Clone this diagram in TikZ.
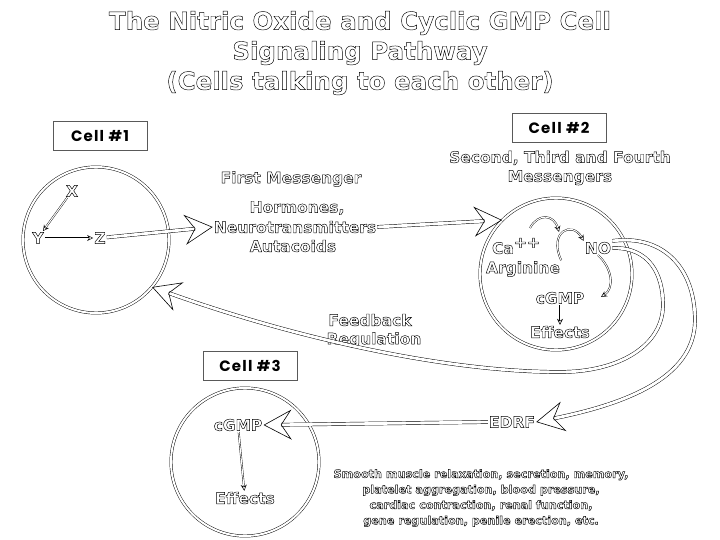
\documentclass[tikz,border=0pt]{standalone}
\usepackage{fontspec}
\setmainfont{DejaVu Sans}
\newfontfamily\cellfont{Poppins}[LetterSpace=8]
\usetikzlibrary{arrows.meta}
\tikzset{
  hol/.style={execute at begin node={\special{pdf:literal direct 1 Tr 0.45 w}},
              execute at end node={\special{pdf:literal direct 0 Tr}}},
  lbl/.style={hol, inner sep=1pt, font=\bfseries\fontsize{15.5}{19}\selectfont},
  small/.style={hol, inner sep=1pt, align=center, font=\bfseries\fontsize{11.2}{15.5}\selectfont},
  ttl/.style={hol, align=center, font=\bfseries\fontsize{24.5}{30}\selectfont},
  boxlbl/.style={draw=black!65, line width=0.7pt, minimum width=94pt, minimum height=29pt,
                 font=\cellfont\bfseries\fontsize{15}{17}\selectfont},
  cellwall/.style={circle, draw, double, double distance=2pt, line width=0.45pt},
  big/.style={draw, double, double distance=2.8pt, line width=0.45pt,
              -{Stealth[open, length=28pt, width=30pt, inset=10pt, line width=0.6pt]}},
  thinar/.style={draw, double, double distance=1pt, line width=0.4pt,
              -{Stealth[open, length=6pt, width=6pt, line width=0.5pt]}}
}
\begin{document}
\begin{tikzpicture}[x=1pt,y=-1pt]
\useasboundingbox (0,0) rectangle (720,540);

% title
\node[ttl] (title) at (360,53) {The Nitric Oxide and Cyclic GMP Cell\\Signaling Pathway\\(Cells talking to each other)};

% cell boxes
\node[boxlbl] (b1) at (100,136) {Cell \#1};
\node[boxlbl] (b2) at (559,128) {Cell \#2};
\node[boxlbl] (b3) at (250,366) {Cell \#3};

% cells
\node[cellwall, minimum size=146pt] (c1) at (96,240) {};
\node[cellwall, minimum size=152pt] (c2) at (556,274) {};
\node[cellwall, minimum size=148pt] (c3) at (245,462) {};

% cell 1 contents
\node[lbl] (x) at (72,191) {X};
\node[lbl] (y) at (38,238) {Y};
\node[lbl] (z) at (100,238) {Z};
\draw[thinar] (x) -- (y);
\draw[thinar] (y) -- (z);

% first messenger
\node[lbl] (fm) at (291,179) {First Messenger};
\node[lbl] (horm) at (297,208) {Hormones,};
\node[lbl] (neuro) at (295,227) {Neurotransmitters};
\node[lbl] (auta) at (293,246) {Autacoids};
\draw[big] (z) -- (neuro.west);
\draw[big] (neuro.east) -- (c2.135);

% cell 2 header
\node[lbl, align=center] (stf) at (560,168) {Second, Third and Fourth\\Messengers};

% cell 2 contents
\node[lbl] (ca) at (516,246) {Ca\raisebox{6pt}{++}};
\node[lbl] (no) at (598,248) {NO};
\node[lbl] (arg) at (523,269) {Arginine};
\node[lbl] (cg2) at (560,298) {cGMP};
\node[lbl] (ef2) at (560,332) {Effects};
\coordinate (a1s) at (530,228);
\coordinate (a1e) at (559,232);
\coordinate (a3e) at (601,297);
\draw[thinar] (a1s) .. controls (538,213) and (554,214) .. (a1e);
\draw[thinar] (arg.north east) .. controls (548,232) and (572,220) .. (no.north west);
\draw[thinar] (no.south) .. controls (612,268) and (615,288) .. (a3e);
\draw[thinar] (cg2) -- (ef2);

% feedback
\node[lbl] (fb) at (370,320) {Feedback};
\node[lbl] (reg) at (374,340) {Regulation};
\draw[big] (no.east) .. controls (650,247) and (663,275) .. (663,305)
  .. controls (663,345) and (620,372) .. (560,372)
  .. controls (450,372) and (300,340) .. (c1.-40);

% EDRF
\node[lbl] (edrf) at (512,422) {EDRF};
\draw[big] (no.north east) .. controls (665,234) and (695,270) .. (695,320)
  .. controls (695,380) and (620,405) .. (edrf.east);

% cell 3 contents
\node[lbl] (cg3) at (238,425) {cGMP};
\node[lbl] (ef3) at (245,498) {Effects};
\draw[thinar] (cg3) -- (ef3);
\draw[big] (edrf.west) -- (cg3.east);

% effects list
\node[small] (list) at (481,498) {Smooth muscle relaxation, secretion, memory,\\platelet aggregation, blood pressure,\\cardiac contraction, renal function,\\gene regulation, penile erection, etc.};
\end{tikzpicture}
\end{document}
